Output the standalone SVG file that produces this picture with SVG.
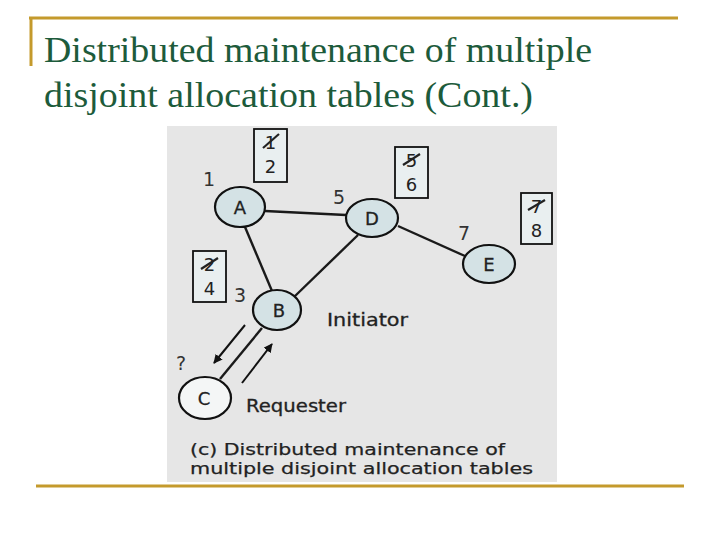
<svg xmlns="http://www.w3.org/2000/svg" width="720" height="540" viewBox="0 0 720 540">
<defs>
<style>
.title{font-family:"Liberation Serif","Times New Roman",serif;font-size:36px;fill:#1d5b3b}
.gold{stroke:#c49a2c;stroke-width:3;fill:none}
.edge{stroke:#1a1a1a;stroke-width:2.4;fill:none}
.node{stroke:#111;stroke-width:2.2;fill:#d4e2e5}
.box{stroke:#111;stroke-width:1.8;fill:#e9eff0}
.lbl{font-family:"DejaVu Sans","Verdana",sans-serif;font-size:17px;fill:#222;stroke:#222;stroke-width:0.3}
.cap{font-family:"DejaVu Sans","Verdana",sans-serif;font-size:16px;fill:#222;stroke:#222;stroke-width:0.25}
.num{font-family:"DejaVu Sans","Verdana",sans-serif;font-size:19px;fill:#333}
.nl{font-family:"DejaVu Sans","Verdana",sans-serif;font-size:18px;fill:#222;stroke:#222;stroke-width:0.3;text-anchor:middle}
.bn{font-family:"DejaVu Sans","Verdana",sans-serif;font-size:18px;fill:#222;text-anchor:middle}
.strike{stroke:#222;stroke-width:2.2}
.arr{stroke:#111;stroke-width:2;fill:none}
</style>
<marker id="ah" viewBox="0 0 10 10" refX="9" refY="5" markerWidth="4.5" markerHeight="4.5" orient="auto">
<path d="M0,0 L10,5 L0,10 z" fill="#111"/>
</marker>
</defs>
<rect width="720" height="540" fill="#ffffff"/>
<g id="frame">
<line class="gold" x1="29" y1="18" x2="678" y2="18"/>
<line class="gold" x1="31" y1="17" x2="31" y2="66"/>
<line class="gold" x1="36" y1="486" x2="684" y2="486"/>
</g>
<g id="title">
<text class="title" x="44" y="62" textLength="548" lengthAdjust="spacingAndGlyphs">Distributed maintenance of multiple</text>
<text class="title" x="44" y="107" textLength="489" lengthAdjust="spacingAndGlyphs">disjoint allocation tables (Cont.)</text>
</g>
<rect id="panel" x="167" y="126" width="390" height="356" fill="#e6e6e6"/>
<g id="connectors">
<line class="edge" x1="265" y1="211" x2="346" y2="215"/>
<line class="edge" x1="245" y1="227" x2="272" y2="291"/>
<line class="edge" x1="294" y1="297" x2="358" y2="235"/>
<line class="edge" x1="398" y1="226" x2="465" y2="256"/>
<line class="edge" x1="262" y1="328" x2="220" y2="379"/>
<line class="arr" x1="245" y1="325" x2="214" y2="363" marker-end="url(#ah)"/>
<line class="arr" x1="242" y1="383" x2="272" y2="344" marker-end="url(#ah)"/>
</g>
<g id="node-A">
<ellipse class="node" cx="240" cy="207" rx="25" ry="20"/>
<text class="nl" x="240" y="214">A</text>
</g>
<g id="node-D">
<ellipse class="node" cx="372" cy="218" rx="26" ry="19"/>
<text class="nl" x="372" y="225">D</text>
</g>
<g id="node-E">
<ellipse class="node" cx="489" cy="264" rx="26" ry="19"/>
<text class="nl" x="489" y="271">E</text>
</g>
<g id="node-B">
<ellipse class="node" cx="277" cy="310" rx="24" ry="20"/>
<text class="nl" x="279" y="317">B</text>
</g>
<g id="node-C">
<ellipse class="node" cx="205" cy="398" rx="26" ry="21" style="fill:#f4f6f6"/>
<text class="nl" x="204" y="405">C</text>
</g>
<g id="box-AB">
<rect class="box" x="254" y="129" width="33" height="53"/>
<text class="bn" x="270.5" y="149">1</text>
<line class="strike" x1="263" y1="148" x2="279" y2="134"/>
<text class="bn" x="270.5" y="173">2</text>
</g>
<g id="box-B">
<rect class="box" x="193" y="251" width="33" height="51"/>
<text class="bn" x="209.5" y="271">2</text>
<line class="strike" x1="201" y1="269" x2="218" y2="258"/>
<text class="bn" x="209.5" y="295">4</text>
</g>
<g id="box-D">
<rect class="box" x="395" y="147" width="33" height="51"/>
<text class="bn" x="411.5" y="167">5</text>
<line class="strike" x1="403" y1="165" x2="420" y2="154"/>
<text class="bn" x="411.5" y="191">6</text>
</g>
<g id="box-E">
<rect class="box" x="521" y="193" width="31" height="51"/>
<text class="bn" x="536.5" y="213">7</text>
<line class="strike" x1="528" y1="210" x2="545" y2="200"/>
<text class="bn" x="536.5" y="237">8</text>
</g>
<g id="labels">
<text class="num" x="203" y="186">1</text>
<text class="num" x="333" y="204">5</text>
<text class="num" x="458" y="240">7</text>
<text class="num" x="234" y="302">3</text>
<text class="num" x="176" y="370">?</text>
<text class="lbl" x="327" y="326" textLength="81" lengthAdjust="spacingAndGlyphs">Initiator</text>
<text class="lbl" x="246" y="412" textLength="100" lengthAdjust="spacingAndGlyphs">Requester</text>
<text class="cap" x="190" y="455" textLength="315" lengthAdjust="spacingAndGlyphs">(c) Distributed maintenance of</text>
<text class="cap" x="190" y="474" textLength="343" lengthAdjust="spacingAndGlyphs">multiple disjoint allocation tables</text>
</g>
</svg>
